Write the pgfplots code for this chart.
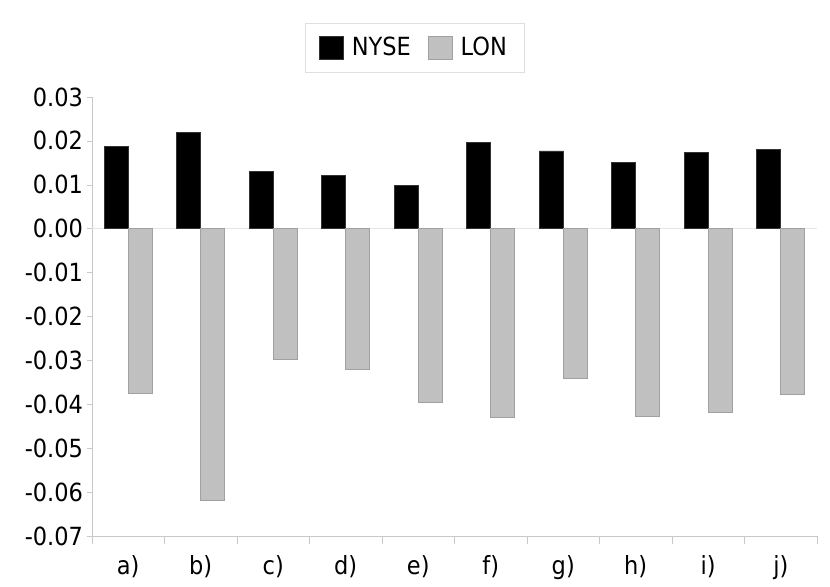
\documentclass[border=0pt]{standalone}
\usepackage{fontspec}
\setmainfont{DejaVu Sans Condensed}
\usepackage{pgfplots}
\pgfplotsset{compat=1.18}
\definecolor{lonfill}{HTML}{C0C0C0}
\definecolor{londraw}{HTML}{A0A0A0}
\definecolor{axisgray}{HTML}{C8C8C8}

\begin{document}
\begin{tikzpicture}
\useasboundingbox (-46pt,-25.5pt) rectangle (369pt,268pt);
\begin{axis}[
  scale only axis,
  width=362.5pt, height=219.5pt,
  ybar=0pt, bar width=12pt,
  xmin=-0.5, xmax=9.5,
  ymin=-0.07, ymax=0.03,
  ytick={-0.07,-0.06,...,0.03},
  scaled y ticks=false,
  yticklabel style={/pgf/number format/fixed, /pgf/number format/fixed zerofill,
    /pgf/number format/precision=2, /pgf/number format/assume math mode=true,
    xshift=1.5pt},
  xtick={0,...,9},
  xticklabels={a),b),c),d),e),f),g),h),i),j)},
  xticklabel style={yshift=-3.5pt},
  minor xtick={-0.5,0.5,...,9.5},
  axis x line*=bottom, axis y line*=left,
  axis line style={axisgray, -},
  tick align=outside,
  major tick length=2.5pt,
  minor tick length=4pt,
  x tick style={draw=none},
  minor x tick style={draw=axisgray},
  y tick style={axisgray},
  tick label style={font=\fontsize{12.5}{14}\selectfont, black},
  extra y ticks={0},
  extra y tick labels={},
  extra y tick style={grid=major, major grid style={gray!20, line width=0.6pt}, tick style={draw=none}},
  legend columns=2,
  legend style={at={(0.4455,1.1116)}, anchor=center, draw=gray!25,
    font=\fontsize{12.5}{14}\selectfont, inner xsep=7pt, inner ysep=5pt,
    /tikz/every odd column/.append style={column sep=2pt},
    /tikz/every even column/.append style={column sep=6.5pt}},
  legend image code/.code={\draw[#1] (0pt,-5.75pt) rectangle (12pt,5.75pt);},
]
\addplot[fill=black, draw=black!80] coordinates {
  (0,0.0187) (1,0.0219) (2,0.0130) (3,0.0121) (4,0.0099)
  (5,0.0196) (6,0.0177) (7,0.0150) (8,0.0174) (9,0.0181)};
\addplot[fill=lonfill, draw=londraw] coordinates {
  (0,-0.0376) (1,-0.0620) (2,-0.0298) (3,-0.0320) (4,-0.0396)
  (5,-0.0430) (6,-0.0342) (7,-0.0427) (8,-0.0418) (9,-0.0378)};
\legend{NYSE,LON}
\end{axis}
\end{tikzpicture}
\end{document}
